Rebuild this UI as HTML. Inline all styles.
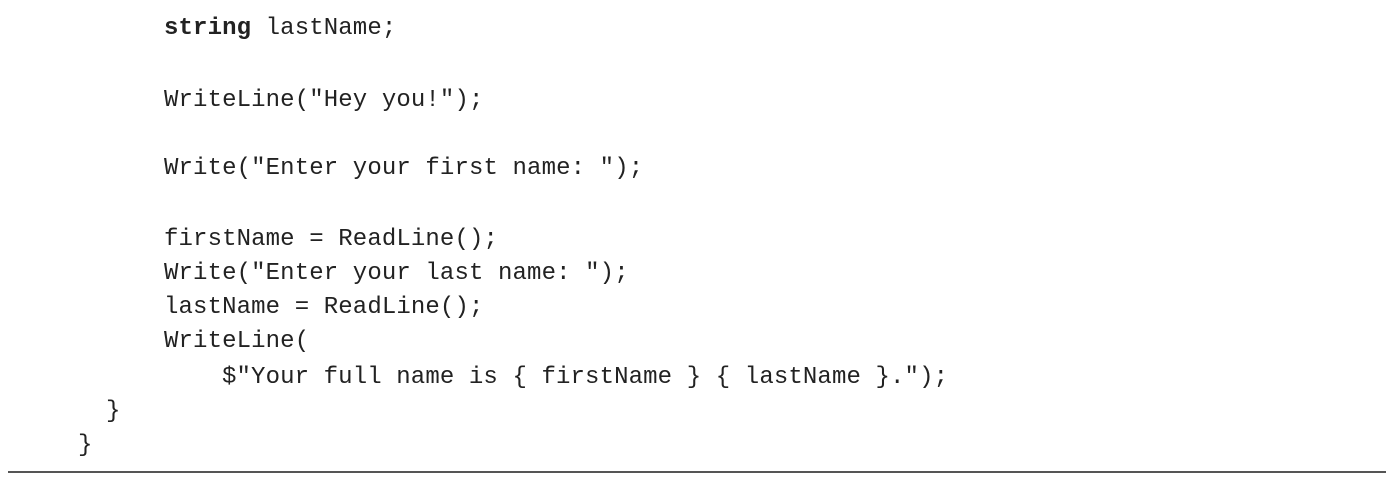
<!DOCTYPE html>
<html><head><style>
body{margin:0;width:1400px;height:481px;background:#fff;position:relative;overflow:hidden}
.l{position:absolute;font-family:"Liberation Mono",monospace;font-size:24px;line-height:34px;color:#222;white-space:pre;letter-spacing:0.12px}
b{font-weight:bold}
.hr{position:absolute;left:8px;top:471px;width:1378px;height:2px;background:#555}
</style></head><body>
<div class="l" style="left:164px;top:12px"><b>string</b> lastName;</div>
<div class="l" style="left:164px;top:84px">WriteLine("Hey you!");</div>
<div class="l" style="left:164px;top:152px">Write("Enter your first name: ");</div>
<div class="l" style="left:164px;top:223px">firstName = ReadLine();</div>
<div class="l" style="left:164px;top:257px">Write("Enter your last name: ");</div>
<div class="l" style="left:164px;top:291px">lastName = ReadLine();</div>
<div class="l" style="left:164px;top:325px">WriteLine(</div>
<div class="l" style="left:222px;top:361px">$"Your full name is { firstName } { lastName }.");</div>
<div class="l" style="left:106px;top:395px">}</div>
<div class="l" style="left:78px;top:429px">}</div>
<div class="hr"></div>
</body></html>
